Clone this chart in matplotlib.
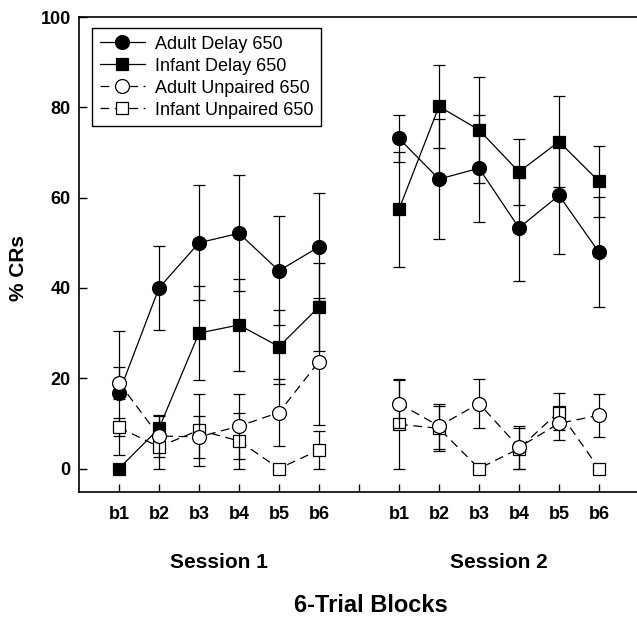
import numpy as np
import matplotlib
matplotlib.use("Agg")
import matplotlib.pyplot as plt

plt.rcParams['font.family'] = ['Liberation Sans', 'DejaVu Sans']

blocks = ["b1", "b2", "b3", "b4", "b5", "b6"]
session_names = ["Session 1", "Session 2"]

# Session 1 values
adult_delay_s1 = [16.7, 40.0, 50.0, 52.1, 43.8, 49.1]
adult_delay_s1_err = [13.8, 9.3, 12.7, 12.8, 12.1, 12.0]
infant_delay_s1 = [0.0, 8.9, 30.0, 31.8, 27.0, 35.8]
infant_delay_s1_err = [0.0, 2.8, 10.5, 10.2, 8.2, 9.8]
adult_unpaired_s1 = [19.0, 7.2, 7.0, 9.4, 12.4, 23.7]
adult_unpaired_s1_err = [3.5, 4.6, 4.7, 7.2, 7.4, 14.1]
infant_unpaired_s1 = [9.1, 4.8, 8.5, 6.1, 0.0, 4.1]
infant_unpaired_s1_err = [2.0, 4.8, 8.0, 6.2, 0.0, 4.1]

# Session 2 values
adult_delay_s2 = [73.1, 64.1, 66.5, 53.3, 60.5, 47.9]
adult_delay_s2_err = [5.3, 13.2, 11.9, 11.7, 12.9, 12.2]
infant_delay_s2 = [57.4, 80.2, 75.0, 65.7, 72.4, 63.6]
infant_delay_s2_err = [12.7, 9.2, 11.8, 7.3, 10.0, 7.9]
adult_unpaired_s2 = [14.4, 9.4, 14.4, 4.7, 10.0, 11.8]
adult_unpaired_s2_err = [5.4, 5.0, 5.5, 4.8, 3.7, 4.8]
infant_unpaired_s2 = [9.8, 8.9, 0.0, 4.4, 12.6, 0.0]
infant_unpaired_s2_err = [9.8, 5.0, 0.0, 4.5, 4.1, 0.0]

labels = ["Adult Delay 650", "Infant Delay 650", "Adult Unpaired 650", "Infant Unpaired 650"]

x1 = np.arange(1, 7)
x2 = np.arange(8, 14)
xs = np.concatenate([x1, [np.nan], x2])

def join(a, b):
    return np.concatenate([a, [np.nan], b])

fig = plt.figure(figsize=(6.37, 6.17), dpi=100)
ax = fig.add_axes([79/637, 1 - 492/617, 560/637, 475/617])

dash = (0, (7, 4.5))
styles = [
    dict(marker='o', ms=10, mfc='black', mec='black', ls='-'),
    dict(marker='s', ms=9, mfc='black', mec='black', ls='-'),
    dict(marker='s', ms=9, mfc='white', mec='black', ls=dash),
    dict(marker='o', ms=10, mfc='white', mec='black', ls=dash),
]
series = [
    (adult_delay_s1, adult_delay_s2, adult_delay_s1_err, adult_delay_s2_err, labels[0], styles[0]),
    (infant_delay_s1, infant_delay_s2, infant_delay_s1_err, infant_delay_s2_err, labels[1], styles[1]),
    (infant_unpaired_s1, infant_unpaired_s2, infant_unpaired_s1_err, infant_unpaired_s2_err, labels[3], styles[2]),
    (adult_unpaired_s1, adult_unpaired_s2, adult_unpaired_s1_err, adult_unpaired_s2_err, labels[2], styles[3]),
]
handles = {}
for z, (s1, s2, e1, e2, lab, st) in enumerate(series):
    y = join(s1, s2)
    e = join(e1, e2)
    eb = ax.errorbar(xs, y, yerr=e, color='black', lw=0.9, elinewidth=0.9,
                     capsize=4.5, capthick=0.9, mew=0.9, label=lab, zorder=3 + z,
                     **st)
    handles[lab] = eb[0]

leg = ax.legend([handles[l] for l in labels], labels, loc='upper left',
                bbox_to_anchor=(13/560, 1 - 11/475), borderaxespad=0,
                fontsize=13, handlelength=2.5, handletextpad=0.55,
                labelspacing=0.28, frameon=True, fancybox=False,
                edgecolor='black', framealpha=1, borderpad=0.42)
leg.get_frame().set_linewidth(1.0)

ax.set_xlim(0, 14)
ax.set_ylim(-5.2, 100)
ax.set_yticks([0, 20, 40, 60, 80, 100])
ax.set_yticklabels(["0", "20", "40", "60", "80", "100"], fontweight='bold', fontsize=13)
ax.set_xticks(np.arange(1, 14))
ax.set_xticklabels(blocks + [""] + blocks, fontweight='bold', fontsize=13)
ax.tick_params(axis='both', direction='in', length=6, width=1)
ax.tick_params(axis='y', pad=6)
ax.tick_params(axis='x', pad=10)
for sp in ax.spines.values():
    sp.set_linewidth(1.2)
ax.spines['right'].set_visible(False)

ax.text(3.5, -20.8, session_names[0], ha='center', va='center', fontsize=15, fontweight='bold')
ax.text(10.5, -20.8, session_names[1], ha='center', va='center', fontsize=15, fontweight='bold')

fig.text(371/637, 1 - 606/617, "6-Trial Blocks", ha='center', va='center', fontsize=17, fontweight='bold')
fig.text(18/637, 1 - 268/617, "% CRs", ha='center', va='center', rotation=90, fontsize=15, fontweight='bold')

fig.savefig("out.png", dpi=100)
